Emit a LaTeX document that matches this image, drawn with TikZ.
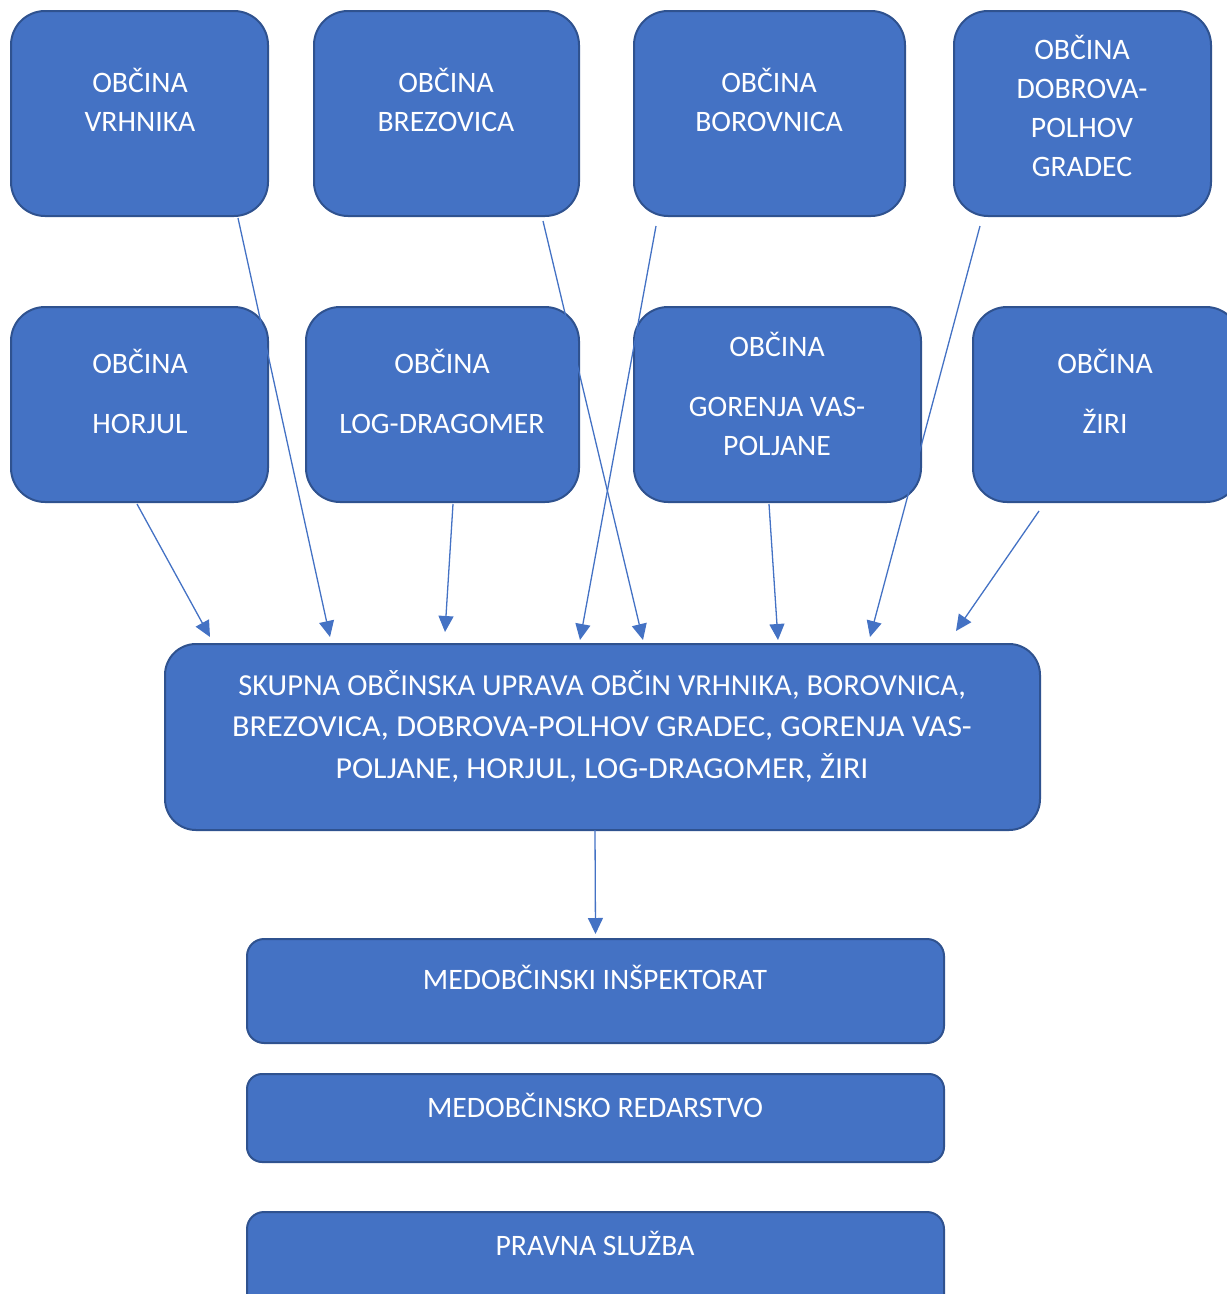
\documentclass[tikz,border=0pt]{standalone}
\usepackage{fontspec}
\usepackage{graphicx}
\setmainfont{Carlito}
\usetikzlibrary{arrows.meta,calc}
\definecolor{boxfill}{HTML}{4472C4}
\definecolor{boxline}{HTML}{2F528F}
\definecolor{arrowc}{HTML}{4472C4}
\begin{document}
\begin{tikzpicture}[x=1pt,y=-1pt,
  box/.style={draw=boxline,fill=boxfill,line width=2pt,rounded corners=#1,inner sep=0pt,outer sep=0pt},
  box/.default=34pt,
  txt/.style={text=white,font=\fontsize{29.7}{39}\selectfont,align=center,anchor=base,inner sep=0pt},
  conn/.style={draw=arrowc,line width=1.3pt,-{Triangle[length=16pt,width=15pt]}}]
\useasboundingbox (0,0) rectangle (1227,1294);
\clip (0,0) rectangle (1227,1294);
% top row
\node[box,minimum width=257pt,minimum height=205pt] (vrh) at (139.5,113.5) {};
\node[box,minimum width=265pt,minimum height=205pt] (brez) at (446.5,113.5) {};
\node[box,minimum width=271pt,minimum height=205pt] (borov) at (769.5,113.5) {};
\node[box,minimum width=257pt,minimum height=205pt] (dobr) at (1082.5,113.5) {};
% second row
\node[box,minimum width=257pt,minimum height=195pt] (horj) at (139.5,404.5) {};
\node[box,minimum width=273pt,minimum height=195pt] (log) at (442.5,404.5) {};
\node[box,minimum width=287pt,minimum height=195pt] (gor) at (777.5,404.5) {};
\node[box,minimum width=267pt,minimum height=195pt] (ziri) at (1106.5,404.5) {};
% main
\node[box=31pt,minimum width=875pt,minimum height=186pt] (main) at (602.5,737) {};
% bottom
\node[box=17pt,minimum width=697pt,minimum height=104pt] (insp) at (595.5,991) {};
\node[box=15pt,minimum width=697pt,minimum height=88pt] (red) at (595.5,1118) {};
\node[box=17pt,minimum width=697pt,minimum height=104pt] (prav) at (595.5,1264) {};
% texts (anchor base = baseline of last line)
\node[txt] (vrhT) at (140,131) {OBČINA\\VRHNIKA};
\node[txt] (brezT) at (446,131) {OBČINA\\BREZOVICA};
\node[txt] (borovT) at (769,131) {OBČINA\\BOROVNICA};
\node[txt,font=\fontsize{29.7}{38.7}\selectfont] (dobrT) at (1082,176) {OBČINA\\DOBROVA-\\POLHOV\\GRADEC};
\node[txt] (horjT) at (140,433) {OBČINA\\[21pt]HORJUL};
\node[txt] (logT) at (442,433) {OBČINA\\[21pt]LOG-DRAGOMER};
\node[txt] (gorT) at (777,455) {OBČINA\\[21pt]GORENJA VAS-\\POLJANE};
\node[txt] (ziriT) at (1105,433) {OBČINA\\[21pt]ŽIRI};
\node[txt,font=\fontsize{30.5}{41.5}\selectfont] (mainT) at (602,778) {SKUPNA OBČINSKA UPRAVA OBČIN VRHNIKA, BOROVNICA,\\\scalebox{1.057}[1]{BREZOVICA, DOBROVA-POLHOV GRADEC, GORENJA VAS-}\\\scalebox{1.047}[1]{POLJANE, HORJUL, LOG-DRAGOMER, ŽIRI}};
\node[txt] (inspT) at (595,989) {MEDOBČINSKI INŠPEKTORAT};
\node[txt] (redT) at (595,1117) {MEDOBČINSKO REDARSTVO};
\node[txt] (pravT) at (595,1255) {PRAVNA SLUŽBA};
% connectors
\draw[conn] ($(horj.south west)+(126,2)$) -- ($(main.north west)+(45,-7)$);
\draw[conn] ($(vrh.south west)+(227,2)$) -- ($(main.north west)+(165,-7)$);
\draw[conn] ($(log.south west)+(147,2)$) -- ($(main.north west)+(280,-12)$);
\draw[conn] ($(borov.south west)+(22,10)$) -- ($(main.north west)+(415,-4)$);
\draw[conn] ($(brez.south west)+(229,5)$) -- ($(main.north west)+(478,-4)$);
\draw[conn] ($(gor.south west)+(135,2)$) -- ($(main.north west)+(613,-4)$);
\draw[conn] ($(dobr.south west)+(26,10)$) -- ($(main.north west)+(705,-7)$);
\draw[conn] ($(ziri.south west)+(66,9)$) -- ($(main.north west)+(791,-13)$);
\draw[conn] ($(main.south)+(-7.5,0)$) -- ($(insp.north)+(0,-5)$);
\end{tikzpicture}
\end{document}
